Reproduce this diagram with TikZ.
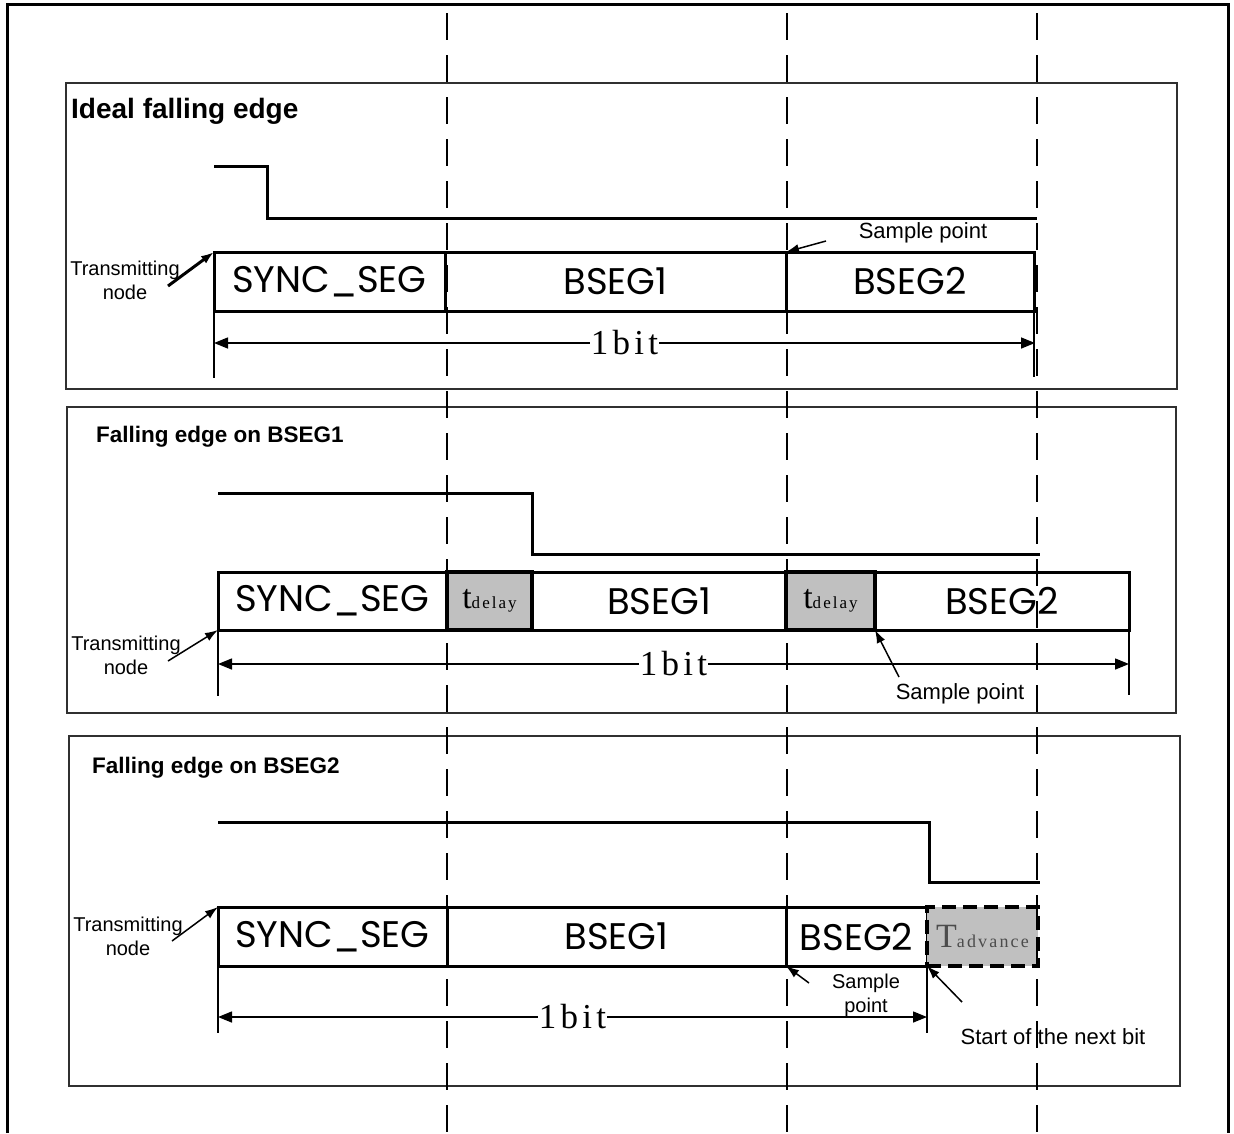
\documentclass[tikz,border=0pt]{standalone}
\usepackage{fontspec}
\setmainfont{Liberation Sans}
\newfontfamily\segfont{Poppins}
\newfontfamily\spacedserif[LetterSpace=12]{Liberation Serif}
\usetikzlibrary{arrows.meta,positioning}
\definecolor{shade}{HTML}{C0C0C0}
\definecolor{frame}{HTML}{303030}
\tikzset{
  seg/.style={draw,line width=3pt,minimum height=59pt,inner sep=0pt,outer sep=0pt,
              font=\segfont\fontsize{37}{40}\selectfont},
  delaybox/.style={seg,fill=shade,line width=3.5pt},
  advbox/.style={seg,fill=shade,line width=4pt,dash pattern=on 14pt off 7pt},
  panel/.style={draw=frame,line width=1.5pt},
  level/.style={line width=3pt},
  guide/.style={line width=1.5pt,dash pattern=on 27pt off 15pt},
  dim/.style={{Triangle[length=14pt,width=11pt]}-{Triangle[length=14pt,width=11pt]},line width=1.5pt},
  ext/.style={line width=1.5pt},
  pointer/.style={-{Latex[length=13pt,width=9pt]},line width=1.5pt},
  heading/.style={anchor=west,inner sep=0pt,font=\bfseries\fontsize{22.5}{26}\selectfont},
  note/.style={align=center,inner sep=0pt,font=\fontsize{22}{24}\selectfont},
  txnote/.style={align=center,inner sep=0pt,font=\fontsize{20}{24}\selectfont},
  bitlabel/.style={fill=white,inner sep=1pt,font=\spacedserif\fontsize{35}{38}\selectfont},
}
\newcommand{\tdelay}{{\spacedserif\fontsize{34}{36}\selectfont t\fontsize{17}{18}\selectfont delay}}
\newcommand{\tadvance}{{\color{black!70}\spacedserif\fontsize{34}{36}\selectfont T\fontsize{18}{20}\selectfont advance}}

\begin{document}
\begin{tikzpicture}[x=1pt,y=-1pt]
  \useasboundingbox (0,0) rectangle (1234,1133);
  \draw[line width=3pt] (7,1133) -- (7,4) -- (1228,4) -- (1228,1133);

  % ideal falling edge
  \draw[panel] (66,83) rectangle (1177,389);
  \node[heading,font=\bfseries\fontsize{28}{30}\selectfont] (titleA) at (71,111) {Ideal falling edge};
  \draw[level] (214,166) -| (267,218) -- (1037,218);
  \node[seg,minimum width=231pt,anchor=north west] (syncA) at (214,252) {SYNC\_SEG};
  \node[seg,minimum width=341pt,right=0pt of syncA] (bsegoneA) {BSEG1};
  \node[seg,minimum width=248pt,right=0pt of bsegoneA] (bsegtwoA) {BSEG2};
  \coordinate (bitleftA) at (214,343);
  \coordinate (bitrightA) at (1035,343);
  \draw[ext] (syncA.south west) -- ++(0,67);
  \draw[ext] (bsegtwoA.south east) -- ++(0,66);
  \draw[dim] (bitleftA) -- node[bitlabel] {1bit} (bitrightA);
  \node[txnote] (txA) at (125,280) {Transmitting\\node};
  \coordinate (txtailA) at (168,286);
  \draw[pointer,line width=3pt] (txtailA) -- (syncA.north west);
  \node[note] (sampleA) at (923,233) {Sample point};
  \coordinate (sampletailA) at (826,241);
  \draw[pointer] (sampletailA) -- (bsegtwoA.north west);

  % falling edge on BSEG1
  \draw[panel] (67,407) rectangle (1176,713);
  \node[heading] (titleB) at (96,437) {Falling edge on BSEG1};
  \draw[level] (218,493) -| (532,554) -- (1040,554);
  \node[seg,minimum width=229pt,minimum height=58pt,anchor=north west] (syncB) at (218,572) {SYNC\_SEG};
  \node[delaybox,minimum width=85pt,minimum height=58pt,right=0pt of syncB] (delayoneB) {\tdelay};
  \node[seg,minimum width=254pt,minimum height=58pt,right=0pt of delayoneB] (bsegoneB) {BSEG1};
  \node[delaybox,minimum width=89pt,minimum height=58pt,right=0pt of bsegoneB] (delaytwoB) {\tdelay};
  \node[seg,minimum width=254pt,minimum height=58pt,right=0pt of delaytwoB] (bsegtwoB) {BSEG2};
  \coordinate (bitleftB) at (218,664);
  \coordinate (bitrightB) at (1129,664);
  \draw[ext] (syncB.south west) -- ++(0,66);
  \draw[ext] (bsegtwoB.south east) -- ++(0,65);
  \draw[dim] (bitleftB) -- node[bitlabel] {1bit} (bitrightB);
  \node[txnote] (txB) at (126,655) {Transmitting\\node};
  \coordinate (txtailB) at (168,661);
  \draw[pointer] (txtailB) -- (syncB.south west);
  \node[note] (sampleB) at (960,694) {Sample point};
  \coordinate (sampletailB) at (899,677);
  \draw[pointer] (sampletailB) -- (delaytwoB.south east);

  % falling edge on BSEG2
  \draw[panel] (69,736) rectangle (1180,1086);
  \node[heading] (titleC) at (92,768) {Falling edge on BSEG2};
  \draw[level] (218,822) -| (929,882) -- (1040,882);
  \node[seg,minimum width=229pt,anchor=north west] (syncC) at (218,907) {SYNC\_SEG};
  \node[seg,minimum width=339pt,right=0pt of syncC] (bsegoneC) {BSEG1};
  \node[seg,minimum width=141pt,right=0pt of bsegoneC] (bsegtwoC) {BSEG2};
  \node[advbox,minimum width=111pt,right=0pt of bsegtwoC] (advC) {\tadvance};
  \coordinate (bitleftC) at (218,1017);
  \coordinate (bitrightC) at (927,1017);
  \draw[ext] (syncC.south west) -- ++(0,67);
  \draw[ext] (bsegtwoC.south east) -- ++(0,67);
  \draw[dim] (bitleftC) -- node[bitlabel] {1bit} (bitrightC);
  \node[txnote] (txC) at (128,936) {Transmitting\\node};
  \coordinate (txtailC) at (172,941);
  \draw[pointer] (txtailC) -- (syncC.north west);
  \node[txnote] (sampleC) at (866,995) {Sample\\point};
  \coordinate (sampletailC) at (809,983);
  \draw[pointer] (sampletailC) -- (bsegtwoC.south west);
  \node[note] (nextC) at (1053,1037) {Start of the next bit};
  \coordinate (nexttailC) at (962,1002);
  \draw[pointer] (nexttailC) -- (advC.south west);

  \foreach \gx in {447,787,1037}
    \draw[guide] (\gx,13) -- (\gx,1133);
\end{tikzpicture}
\end{document}
